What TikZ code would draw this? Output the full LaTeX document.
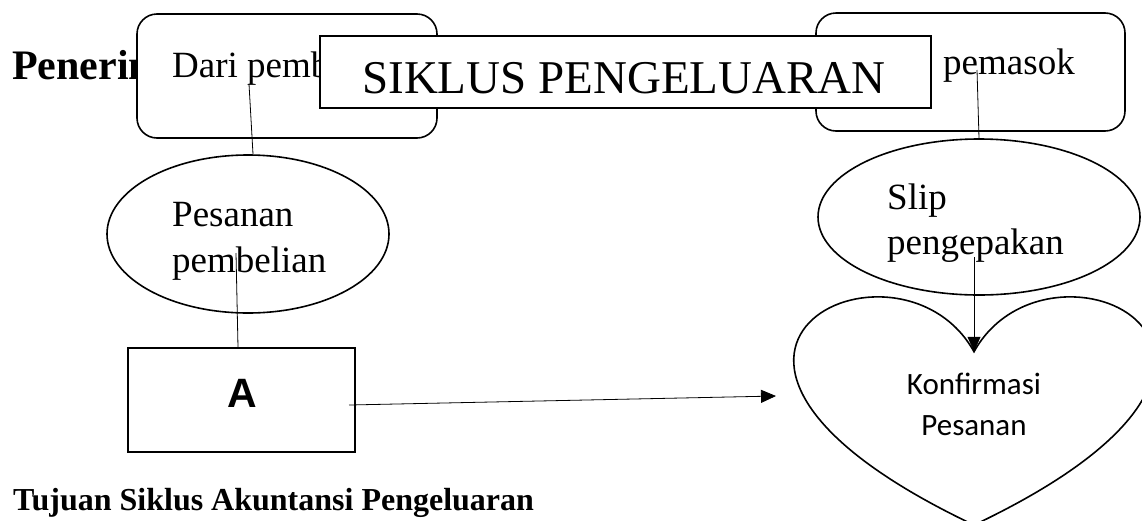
\documentclass[tikz,border=0pt]{standalone}
\usepackage{fontspec}
\setmainfont{Liberation Serif}
\newfontfamily\arialfont{Liberation Sans}
\newfontfamily\calibrifont{Carlito}
\usetikzlibrary{shapes.geometric,arrows.meta}

\begin{document}
\begin{tikzpicture}[x=1pt,y=-1pt,
  frame/.style={draw=black,line width=1.6pt,fill=white,inner sep=0pt},
  roundbox/.style={frame,rounded corners=20pt},
  oval/.style={draw=black,line width=1.6pt,ellipse,inner sep=0pt},
  link/.style={draw=black,line width=0.8pt},
  tip/.style={-{Triangle[length=15pt,width=13pt]}},
  label/.style={inner sep=0pt,anchor=base west,font=\fontsize{37}{44}\selectfont},
  heading/.style={inner sep=0pt,anchor=base west,font=\bfseries\fontsize{42}{50}\selectfont},
  subheading/.style={inner sep=0pt,anchor=base west,font=\bfseries\fontsize{32}{38}\selectfont}]
\useasboundingbox (0,0) rectangle (1142,520);

% heading, partly hidden by the source box
\node[heading] (head) at (12,79) {Penerim};

% source and destination boxes
\node[roundbox,minimum width=300pt,minimum height=124pt] (lbox) at (287,76) {};
\node[label] (ltxt) at (172,77) {Dari pemb};
\node[roundbox,minimum width=309pt,minimum height=118pt] (rbox) at (970.5,72) {};
\node[label] (rtxt) at (943,74) {pemasok};

% title banner
\node[frame,minimum width=611pt,minimum height=72pt] (title) at (625.5,72) {};
\node[inner sep=0pt,anchor=base,font=\fontsize{47}{56}\selectfont] (titletxt) at (624,93) {SIKLUS PENGELUARAN};

% documents
\node[oval,minimum width=282pt,minimum height=158pt] (pesanan) at (248,234) {};
\node[label] (pes1) at (172,226) {Pesanan};
\node[label] (pes2) at (172,272) {pembelian};

\node[oval,minimum width=322pt,minimum height=156pt] (slip) at (979,217) {};
\node[label] (slip1) at (887,209) {Slip};
\node[label] (slip2) at (887,254) {pengepakan};

% process box A
\node[frame,minimum width=227pt,minimum height=104pt] (boxA) at (241.5,400) {};
\node[inner sep=0pt,anchor=base,font=\arialfont\bfseries\fontsize{41}{48}\selectfont] (Atxt) at (242,407) {A};

% heart-shaped confirmation
\coordinate (notch) at (974,351.75);
\draw[line width=1.6pt] (notch) .. controls (1048.6,217) and (1339.4,351.75) .. (974,525)
  .. controls (608.6,351.75) and (899.4,217) .. (notch) -- cycle;
\node[inner sep=0pt,anchor=base,font=\calibrifont\fontsize{31}{38}\selectfont] (konf1) at (974,394) {Konfirmasi};
\node[inner sep=0pt,anchor=base,font=\calibrifont\fontsize{31}{38}\selectfont] (konf2) at (974,435) {Pesanan};

% section heading below the diagram
\node[subheading] (tujuan) at (13,510) {Tujuan Siklus Akuntansi Pengeluaran};

% connectors
\coordinate (lbox-out) at (249,84);
\draw[link] (lbox-out) -- ([xshift=5pt]pesanan.north);
\coordinate (pes-out) at (236,253);
\draw[link] (pes-out) -- ([xshift=-3.5pt]boxA.north);
\coordinate (A-out) at (349,405);
\coordinate (heart-in) at (776,396);
\draw[link,tip] (A-out) -- (heart-in);
\coordinate (rbox-out) at (977,70);
\draw[link] (rbox-out) -- (slip.north);
\coordinate (slip-out) at (974,257);
\draw[link,tip] (slip-out) -- (notch);
\end{tikzpicture}
\end{document}
